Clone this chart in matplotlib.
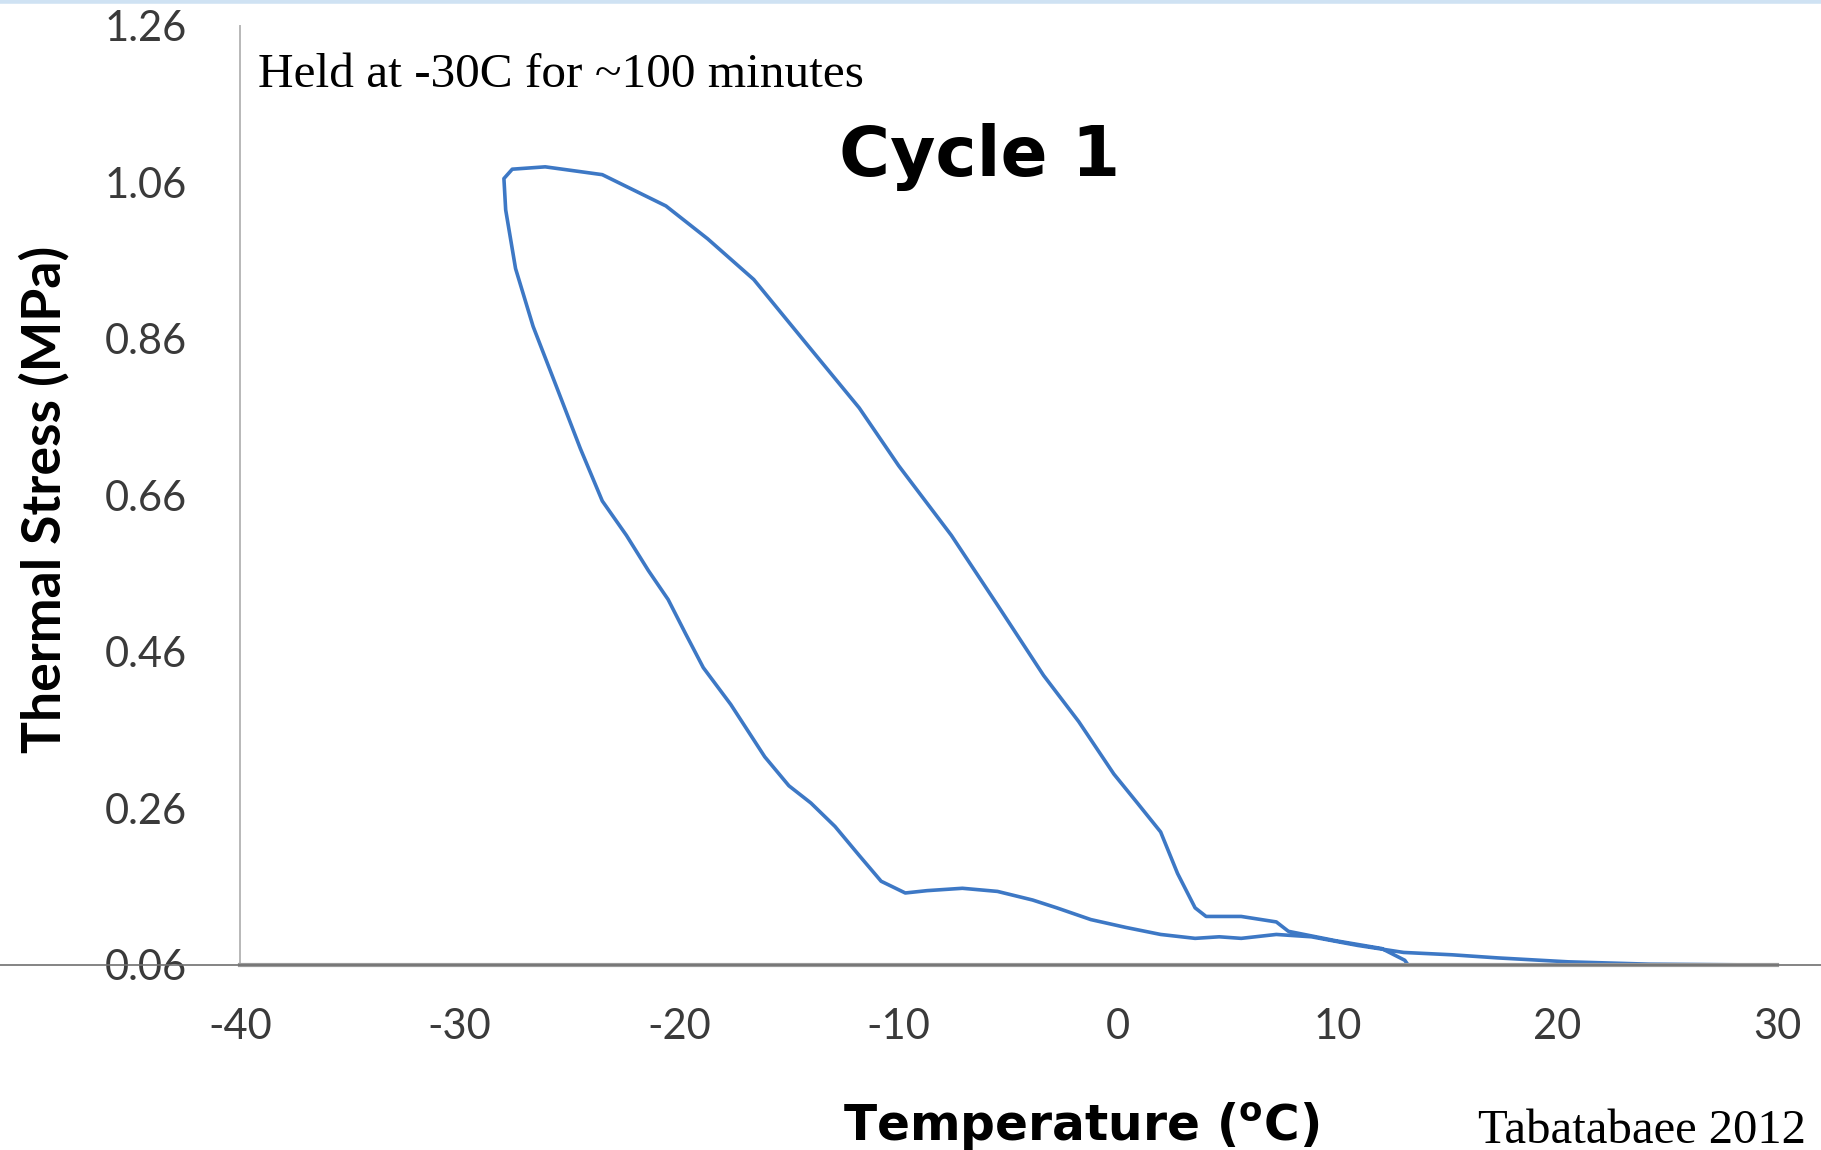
import matplotlib.pyplot as plt
from matplotlib.lines import Line2D


# ============================================
# DATA
# ============================================
# cooling branch: starts near 13 C and climbs to the top-left corner
cool_temp = [13.3, 13.05, 12.0, 9.9, 7.75, 7.2, 5.6, 4.0, 3.5, 2.7, 1.93, 0.87,
             -0.2, -1.8, -3.4, -5.5, -7.6, -10.0, -11.8, -14.0, -16.6, -18.7,
             -20.6, -23.5, -26.1, -27.6, -27.98, -27.9]
cool_stress = [0.056, 0.066, 0.081, 0.091, 0.103, 0.115, 0.122, 0.122, 0.133,
               0.177, 0.23, 0.267, 0.304, 0.371, 0.43, 0.52, 0.609, 0.698,
               0.772, 0.847, 0.936, 0.988, 1.03, 1.07, 1.08, 1.077, 1.065, 1.025]

# heating branch: from the top-left corner down and out to 29 C
heat_temp = [-27.9, -27.45, -26.65, -25.6, -24.5, -23.5, -22.4, -21.4, -20.5,
             -19.7, -18.9, -17.65, -16.1, -15.0, -14.0, -12.9, -11.8, -10.8,
             -9.7, -8.7, -7.1, -5.5, -3.9, -2.8, -1.25, 0.34, 1.93, 3.5, 4.6,
             5.6, 7.2, 8.8, 10.9, 13.0, 15.2, 17.3, 20.5, 24.2, 29.2]
heat_stress = [1.025, 0.95, 0.876, 0.80, 0.72, 0.653, 0.609, 0.564, 0.527,
               0.483, 0.44, 0.393, 0.326, 0.289, 0.267, 0.237, 0.20, 0.167,
               0.152, 0.155, 0.158, 0.154, 0.143, 0.133, 0.118, 0.108, 0.099,
               0.094, 0.096, 0.094, 0.099, 0.096, 0.085, 0.076, 0.073, 0.069,
               0.064, 0.061, 0.06]

x_ticks = [-40, -30, -20, -10, 0, 10, 20, 30]
y_ticks = [0.06, 0.26, 0.46, 0.66, 0.86, 1.06, 1.26]

line_color = "#3D78C5"
tick_color = "#3a3a3a"

# ============================================
# FIGURE
# ============================================
fig = plt.figure(figsize=(18.21, 11.5), dpi=100)
ax = fig.add_axes([0.1318, 0.1609, 0.9758 - 0.1318, 0.9774 - 0.1609])

ax.plot(cool_temp + heat_temp, cool_stress + heat_stress,
        color=line_color, linewidth=2.6)

ax.set_xlim(-40, 30)
ax.set_ylim(0.06, 1.26)
ax.set_xticks(x_ticks)
ax.set_yticks(y_ticks)
ax.set_xticklabels([str(v) for v in x_ticks])
ax.set_yticklabels([f"{v:.2f}" for v in y_ticks])
ax.tick_params(length=0, labelsize=30, colors=tick_color)
ax.tick_params(axis="y", pad=38)
ax.tick_params(axis="x", pad=31)
for lab in ax.get_xticklabels() + ax.get_yticklabels():
    lab.set_family("Lato")

for side in ["top", "right"]:
    ax.spines[side].set_visible(False)
ax.spines["left"].set_color("#b8b8b8")
ax.spines["left"].set_linewidth(1.4)
ax.spines["bottom"].set_color("#9a9a9a")
ax.spines["bottom"].set_linewidth(3)

# thin rule across the whole slide at the zero line
fig.add_artist(Line2D([0, 1], [0.1609, 0.1609], color="#707070", linewidth=1.2,
                      transform=fig.transFigure))
# light blue slide border at the top
fig.add_artist(Line2D([0, 1], [0.999, 0.999], color="#cfe2f3", linewidth=4,
                      transform=fig.transFigure))

# ============================================
# TEXT
# ============================================
fig.text(0.1417, 0.9243, "Held at -30C for ~100 minutes", family="Liberation Serif",
         fontsize=35.5, va="baseline", ha="left")
fig.text(0.538, 0.8635, "Cycle 1", family="DejaVu Sans", fontweight="bold",
         fontsize=50, va="center", ha="center")
fig.text(0.0242, 0.566, "Thermal Stress (MPa)", family="Lato", fontweight="bold",
         fontsize=38.5, rotation=90, va="center", ha="center")
fig.text(0.594, 0.008, r"Temperature ($\mathbf{^{o}}$C)", family="DejaVu Sans",
         fontweight="bold", fontsize=35, va="baseline", ha="center")
fig.text(0.9918, 0.006, "Tabatabaee 2012", family="Liberation Serif",
         fontsize=35, va="baseline", ha="right")

fig.savefig("out.png", dpi=100)
